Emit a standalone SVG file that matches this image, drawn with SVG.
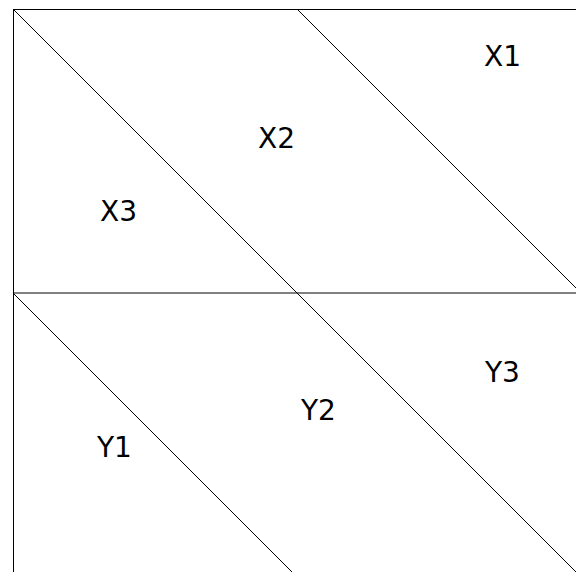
<svg xmlns="http://www.w3.org/2000/svg" width="576" height="572" viewBox="0 0 576 572">
<style>
line{stroke:#000;stroke-width:1}
text{font-family:"DejaVu Sans",Verdana,sans-serif;font-size:28px;fill:#000}
</style>
<rect width="576" height="572" fill="#fff"/>
<g id="connectors">
<line x1="13" y1="9.5" x2="576" y2="9.5"/>
<line x1="13.5" y1="9" x2="13.5" y2="572"/>
<line x1="13" y1="293" x2="576" y2="293"/>
<line x1="13" y1="9" x2="297" y2="293"/>
<line x1="297" y1="9" x2="576" y2="288"/>
<line x1="13" y1="293" x2="292" y2="572"/>
<line x1="297" y1="293" x2="576" y2="572"/>
</g>
<g id="X1"><text x="484" y="66">X1</text></g>
<g id="X2"><text x="258" y="148">X2</text></g>
<g id="X3"><text x="100" y="221">X3</text></g>
<g id="Y1"><text x="97" y="457">Y1</text></g>
<g id="Y2"><text x="301" y="420">Y2</text></g>
<g id="Y3"><text x="485" y="382">Y3</text></g>
</svg>
